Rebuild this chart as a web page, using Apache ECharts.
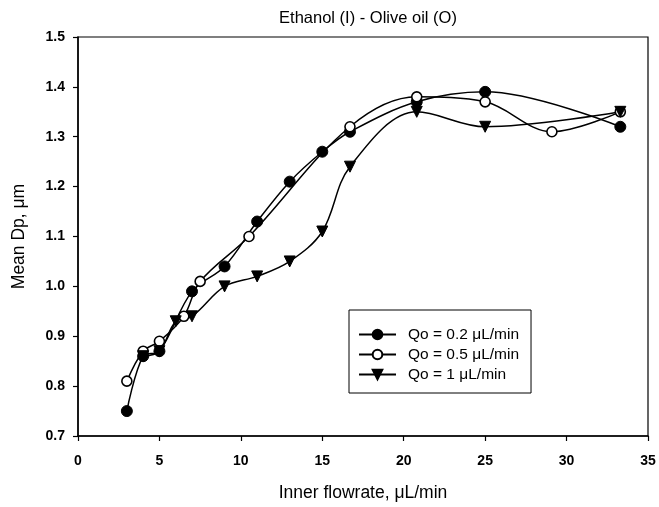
<!DOCTYPE html>
<html>
<head>
<meta charset="utf-8">
<script src="https://cdn.jsdelivr.net/npm/echarts@6/dist/echarts.min.js"></script>
<style>
  html, body { margin: 0; padding: 0; background: #fff; }
  #chart { width: 659px; height: 507px; }
</style>
</head>
<body>
<div id="chart"></div>
<script>
// Inner flowrate (µL/min) and mean droplet diameter (µm) for each outer flowrate
const flowQo02 = [3, 4, 5, 7, 9, 11, 13, 15, 16.7, 20.8, 25, 33.3];
const dpQo02   = [0.75, 0.86, 0.87, 0.99, 1.04, 1.13, 1.21, 1.27, 1.31, 1.37, 1.39, 1.32];

const flowQo05 = [3, 4, 5, 6.5, 7.5, 10.5, 16.7, 20.8, 25, 29.1, 33.3];
const dpQo05   = [0.81, 0.87, 0.89, 0.94, 1.01, 1.10, 1.32, 1.38, 1.37, 1.31, 1.35];

const flowQo1 = [4, 5, 6, 7, 9, 11, 13, 15, 16.7, 20.8, 25, 33.3];
const dpQo1   = [0.86, 0.87, 0.93, 0.94, 1.00, 1.02, 1.05, 1.11, 1.24, 1.35, 1.32, 1.35];

const seriesNames = ['Qo = 0.2 \u03BCL/min', 'Qo = 0.5 \u03BCL/min', 'Qo = 1 \u03BCL/min'];

const xTicks = { min: 0, max: 35, step: 5 };
const yTicks = { min: 0.7, max: 1.5, step: 0.1 };

const pairs = (xs, ys) => xs.map((x, i) => [x, ys[i]]);

const font = 'Liberation Sans, Arial, sans-serif';
const chart = echarts.init(document.getElementById('chart'), null, { renderer: 'canvas' });

const lineBase = {
  type: 'line',
  smooth: 0.35,
  lineStyle: { color: '#000', width: 1.5 },
  emphasis: { disabled: true }
};

chart.setOption({
  animation: false,
  backgroundColor: '#fff',
  title: {
    text: 'Ethanol (I) - Olive oil (O)',
    left: 363,
    textAlign: 'center',
    top: 5,
    textStyle: { fontFamily: font, fontSize: 16.5, fontWeight: 'normal', color: '#000' }
  },
  grid: {
    left: 78, top: 37, right: 11, bottom: 70,
    show: true, borderColor: '#000', borderWidth: 1.2
  },
  legend: {
    left: 349, top: 310,
    orient: 'vertical',
    itemWidth: 37, itemHeight: 12, itemGap: 3,
    padding: [16, 12, 10, 9],
    borderColor: '#000', borderWidth: 1,
    backgroundColor: '#fff',
    textStyle: {
      fontFamily: font, fontSize: 15.5, lineHeight: 17, color: '#000',
      padding: [0, 0, 0, 7]
    },
    data: seriesNames
  },
  xAxis: {
    type: 'value',
    min: xTicks.min, max: xTicks.max, interval: xTicks.step,
    name: 'Inner flowrate, \u03BCL/min',
    nameLocation: 'middle', nameGap: 48,
    nameTextStyle: { fontFamily: font, fontSize: 17.5, color: '#000' },
    axisLine: { lineStyle: { color: '#000', width: 1.5 } },
    axisTick: { inside: false, length: 5, lineStyle: { color: '#000', width: 1.2 } },
    axisLabel: { fontFamily: font, fontSize: 14, fontWeight: 'bold', color: '#000', margin: 18 },
    splitLine: { show: false }
  },
  yAxis: {
    type: 'value',
    min: yTicks.min, max: yTicks.max, interval: yTicks.step,
    name: 'Mean Dp, \u03BCm',
    nameLocation: 'middle', nameGap: 50,
    nameTextStyle: { fontFamily: font, fontSize: 17.5, color: '#000' },
    axisLine: { lineStyle: { color: '#000', width: 1.5 } },
    axisTick: { inside: false, length: 5, lineStyle: { color: '#000', width: 1.2 } },
    axisLabel: {
      fontFamily: font, fontSize: 14, fontWeight: 'bold', color: '#000', margin: 13,
      formatter: v => v.toFixed(1)
    },
    splitLine: { show: false }
  },
  series: [
    Object.assign({}, lineBase, {
      name: seriesNames[0],
      data: pairs(flowQo02, dpQo02),
      symbol: 'circle', symbolSize: 11,
      itemStyle: { color: '#000', borderColor: '#000', borderWidth: 1 }
    }),
    Object.assign({}, lineBase, {
      name: seriesNames[1],
      data: pairs(flowQo05, dpQo05),
      symbol: 'circle', symbolSize: 10,
      itemStyle: { color: '#fff', borderColor: '#000', borderWidth: 1.6 }
    }),
    Object.assign({}, lineBase, {
      name: seriesNames[2],
      data: pairs(flowQo1, dpQo1),
      symbol: 'triangle', symbolSize: 11, symbolRotate: 180,
      itemStyle: { color: '#000', borderColor: '#000', borderWidth: 1 }
    })
  ]
});
</script>
</body>
</html>
